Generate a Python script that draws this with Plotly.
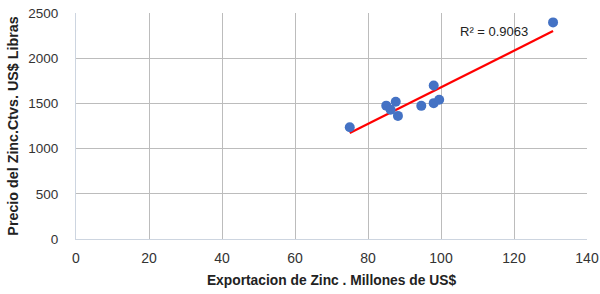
import numpy as np
import plotly.graph_objects as go

export_zinc = [75.0, 85.0, 86.2, 87.6, 88.2, 94.6, 98.0, 98.0, 99.5, 130.7]
precio_zinc = [1237, 1475, 1429, 1519, 1362, 1473, 1698, 1503, 1540, 2396]
r2_text = "R² = 0.9063"
x_ticks = [0, 20, 40, 60, 80, 100, 120, 140]
y_ticks = [0, 500, 1000, 1500, 2000, 2500]

slope, intercept = np.polyfit(export_zinc, precio_zinc, 1)
fit_x = [min(export_zinc), max(export_zinc)]
fit_y = [slope * v + intercept for v in fit_x]

fig = go.Figure()
fig.add_trace(go.Scatter(x=fit_x, y=fit_y, mode="lines",
                         line=dict(color="#ff0000", width=2.2), hoverinfo="skip"))
fig.add_trace(go.Scatter(x=export_zinc, y=precio_zinc, mode="markers",
                         marker=dict(color="#4472c4", size=10)))
fig.add_annotation(x=114.4, y=2296, text=r2_text, showarrow=False,
                   font=dict(family="Liberation Sans", size=13, color="#222"))

fig.update_layout(
    width=600, height=294, showlegend=False,
    margin=dict(l=76, r=13, t=13, b=55),
    plot_bgcolor="white", paper_bgcolor="white",
    font=dict(family="Liberation Sans", color="#333"),
)
fig.update_xaxes(range=[0, 140], tickvals=x_ticks, showgrid=True, gridcolor="#bcbcbc",
                 gridwidth=1, zeroline=False, showline=True, linecolor="#cdd5e0",
                 automargin=False, ticks="", ticklabelstandoff=6, ticklabeloverflow="allow",
                 tickfont=dict(size=14, color="#333"),
                 title=dict(text="<b>Exportacion de Zinc . Millones de US$</b>",
                            font=dict(size=13.8, color="#222"), standoff=10))
fig.update_yaxes(range=[0, 2500], tickvals=y_ticks, showgrid=True, gridcolor="#bcbcbc",
                 gridwidth=1, zeroline=False, showline=True, linecolor="#cdd5e0",
                 automargin=False, ticks="", ticklabelstandoff=14, ticklabeloverflow="allow",
                 tickfont=dict(size=13.5, color="#333"),
                 title=dict(text="<b>Precio del Zinc.Ctvs. US$ Libras</b>",
                            font=dict(size=14.3, color="#222"), standoff=6))
fig.write_html("out.html", config={"displayModeBar": False},
               post_script="document.body.style.margin='0';document.body.style.overflow='hidden';")
